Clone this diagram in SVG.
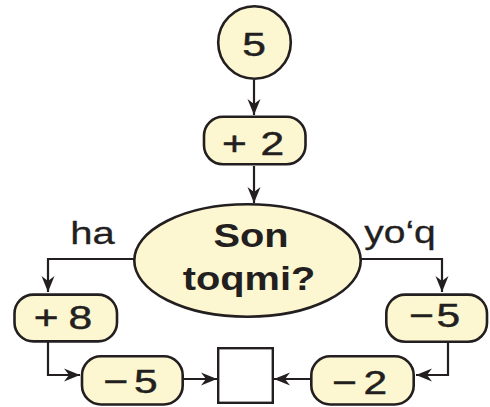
<svg xmlns="http://www.w3.org/2000/svg" width="490" height="407" viewBox="0 0 490 407">
  <style>
    .shape { fill: #fdf7d1; stroke: #231f20; stroke-width: 2.6; }
    .sq { fill: #ffffff; stroke: #231f20; stroke-width: 2.4; }
    .num { font-family: "Liberation Sans", Arial, sans-serif; font-size: 34px; fill: #231f20; stroke: #231f20; stroke-width: 0.5; text-anchor: middle; }
    .lbl { font-family: "Liberation Sans", Arial, sans-serif; font-size: 32px; fill: #231f20; stroke: #231f20; stroke-width: 0.3; text-anchor: middle; }
    .q { font-family: "Liberation Sans", Arial, sans-serif; font-size: 34px; font-weight: bold; fill: #231f20; text-anchor: middle; }
    .conn { fill: none; stroke: #231f20; stroke-width: 2.2; marker-end: url(#arr); }
  </style>
  <defs>
    <marker id="arr" markerUnits="userSpaceOnUse" markerWidth="20" markerHeight="16" viewBox="-17 -8 18 16" refX="0" refY="0" orient="auto">
      <path d="M0,0 L-16,-6.5 L-11,0 L-16,6.5 Z" fill="#231f20"/>
    </marker>
  </defs>

  <g id="connectors">
    <path class="conn" d="M254,80 V115"/>
    <path class="conn" d="M254,166 V203"/>
    <path class="conn" d="M134,259 H48 V292"/>
    <path class="conn" d="M361,259 H442 V292"/>
    <path class="conn" d="M48,342 V375 H80"/>
    <path class="conn" d="M448,343 V375 H416"/>
    <path class="conn" d="M184,379 H217"/>
    <path class="conn" d="M310,379 H274"/>
  </g>

  <g id="start">
    <circle class="shape" cx="254.5" cy="42.5" r="36.3"/>
    <text class="num" transform="translate(254,56) scale(1.25,1)">5</text>
  </g>

  <g id="plus2">
    <rect class="shape" x="204" y="116.8" width="101.5" height="47.5" rx="19"/>
    <text class="num" transform="translate(253,155) scale(1.25,1)">+<tspan dx="11">2</tspan></text>
  </g>

  <g id="decision">
    <ellipse class="shape" cx="247.5" cy="260.5" rx="113.2" ry="56.2"/>
    <text class="q" transform="translate(251,247) scale(1.17,1)">Son</text>
    <text class="q" transform="translate(249,290) scale(1.17,1)">toqmi?</text>
  </g>

  <g id="label-ha">
    <text class="lbl" transform="translate(92.5,244) scale(1.25,1)">ha</text>
  </g>

  <g id="label-yoq">
    <text class="lbl" transform="translate(400,243) scale(1.22,1)">yo‘q</text>
  </g>

  <g id="plus8">
    <rect class="shape" x="14.5" y="294.6" width="102.5" height="46.8" rx="19"/>
    <text class="num" transform="translate(63,329) scale(1.25,1)">+<tspan dx="8">8</tspan></text>
  </g>

  <g id="minus5-right">
    <rect class="shape" x="386.3" y="294.6" width="100.7" height="47.2" rx="19"/>
    <text class="num" transform="translate(434.7,327) scale(1.25,1)">−<tspan dx="2">5</tspan></text>
  </g>

  <g id="minus5-left">
    <rect class="shape" x="82" y="356.3" width="100.7" height="48.2" rx="19"/>
    <text class="num" transform="translate(130.5,393) scale(1.25,1)">−<tspan dx="4.5">5</tspan></text>
  </g>

  <g id="result">
    <rect class="sq" x="218.2" y="348.2" width="54.6" height="54.6"/>
  </g>

  <g id="minus2">
    <rect class="shape" x="311.3" y="356.3" width="102.4" height="48.2" rx="19"/>
    <text class="num" transform="translate(359.7,394) scale(1.25,1)">−<tspan dx="5">2</tspan></text>
  </g>
</svg>
